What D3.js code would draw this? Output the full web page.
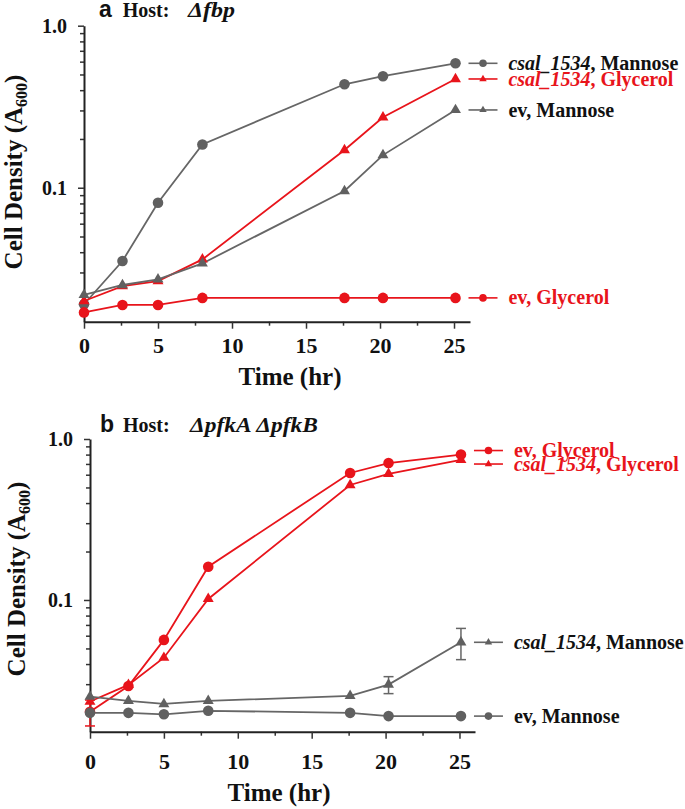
<!DOCTYPE html>
<html><head><meta charset="utf-8">
<script src="https://cdn.jsdelivr.net/npm/d3@7"></script>
<style>
body{margin:0;background:#fff}
svg{display:block}
</style>
</head><body>
<svg id="c" width="685" height="809"></svg>
<script>
// ---------- data ----------
const time = [0, 2.6, 5, 8, 17.6, 20.2, 25.1];
const xMajorTicks = [0, 5, 10, 15, 20, 25];
const xMinorTicks = [2.5, 7.5, 12.5, 17.5, 22.5];
const yMajorTicks = [0.1, 1.0];
const yMajorLabels = ["0.1", "1.0"];
const yMinorTicks = [0.02,0.03,0.04,0.05,0.06,0.07,0.08,0.09,0.2,0.3,0.4,0.5,0.6,0.7,0.8,0.9];

// panel a  (Host: Δfbp)
const aCsalMannose  = [0.0191, 0.0353, 0.0808, 0.185, 0.435, 0.488, 0.586];
const aCsalGlycerol = [0.0200, 0.0247, 0.0265, 0.0361, 0.171, 0.272, 0.469];
const aEvMannose    = [0.0218, 0.0251, 0.0272, 0.0341, 0.0955, 0.159, 0.302];
const aEvGlycerol   = [0.0170, 0.0189, 0.0189, 0.0209, 0.0209, 0.0209, 0.0209];

// panel b  (Host: ΔpfkAΔpfkB)
const bEvGlycerol     = [0.0202, 0.0292, 0.0565, 0.161, 0.615, 0.709, 0.800];
const bEvGlycerolErr  = [0.0037, 0, 0, 0, 0, 0, 0];
const bCsalGlycerol   = [0.0234, 0.0297, 0.0438, 0.1015, 0.518, 0.607, 0.741];
const bCsalMannose    = [0.0251, 0.0236, 0.0226, 0.0236, 0.0254, 0.0298, 0.0546];
const bCsalMannoseErr = [0, 0, 0, 0, 0, 0.0036, 0.0120];
const bEvMannose      = [0.0199, 0.0199, 0.0195, 0.0205, 0.0199, 0.0190, 0.0190];

const RED = "#e8141b", GRAY = "#606060", GRAYLINE = "#666666", BLACK = "#111";
const SERIF = "'Liberation Serif', 'Times New Roman', serif";
const SANS = "'Liberation Sans', Arial, sans-serif";

const lblCsalMannose  = [{t:"csal_1534", i:true}, {t:", Mannose"}];
const lblCsalGlycerol = [{t:"csal_1534", i:true}, {t:", Glycerol"}];
const lblEvMannose    = [{t:"ev, Mannose"}];
const lblEvGlycerol   = [{t:"ev, Glycerol"}];

const panels = [
  {
    letter:"a", gene:"\u0394fbp", geneW:47,
    x0:84, x1:470, yTop:25.7, yBot:321.7, xMax:26.08, yMin:0.0149,
    titleY:17, letterX:99, hostX:122.7, geneX:188,
    xTickPad:9, xLabelX:290, xLabelY:385, yLabelX:22, yLabelY:172,
    series:[
      {v:aCsalMannose,  color:GRAY, line:GRAYLINE, m:"circle",   label:lblCsalMannose,  lc:BLACK},
      {v:aCsalGlycerol, color:RED,  line:RED,      m:"triangle", label:lblCsalGlycerol, lc:RED},
      {v:aEvMannose,    color:GRAY, line:GRAYLINE, m:"triangle", label:lblEvMannose,    lc:BLACK},
      {v:aEvGlycerol,   color:RED,  line:RED,      m:"circle",   label:lblEvGlycerol,   lc:RED}
    ]
  },
  {
    letter:"b", gene:"\u0394pfkA\u2009\u0394pfkB", geneW:128,
    x0:90, x1:475, yTop:439, yBot:731.7, xMax:26.05, yMin:0.0152,
    titleY:431.7, letterX:100, hostX:123, geneX:190,
    xTickPad:15, xLabelX:279, xLabelY:801, yLabelX:25, yLabelY:579,
    series:[
      {v:bEvGlycerol,   e:bEvGlycerolErr, color:RED, line:RED, m:"circle", label:lblEvGlycerol, lc:RED},
      {v:bCsalGlycerol, color:RED,  line:RED,      m:"triangle", label:lblCsalGlycerol, lc:RED},
      {v:bCsalMannose,  e:bCsalMannoseErr, color:GRAY, line:GRAYLINE, m:"triangle", label:lblCsalMannose, lc:BLACK},
      {v:bEvMannose,    color:GRAY, line:GRAYLINE, m:"circle",   label:lblEvMannose,    lc:BLACK}
    ]
  }
];

const svg = d3.select("#c");

function serifText(sel, size){
  return sel.attr("font-family", SERIF).attr("font-weight","bold").attr("font-size", size)
    .style("font-family", SERIF).style("font-weight","bold");
}

function marker(g, type, cx, cy, color, big){
  if(type === "circle"){
    g.append("circle").attr("cx",cx).attr("cy",cy).attr("r", big?5.3:3.8).attr("fill",color);
  } else {
    g.append("path").attr("d", d3.symbol(d3.symbolTriangle, big?52:24)())
      .attr("transform",`translate(${cx},${cy})`).attr("fill",color);
  }
}

panels.forEach(p => {
  const x = d3.scaleLinear().domain([0, p.xMax]).range([p.x0, p.x1]);
  const y = d3.scaleLog().domain([p.yMin, 1]).range([p.yBot, p.yTop]);
  const g = svg.append("g");

  // axes
  const xMinor = g.append("g").attr("transform",`translate(0,${p.yBot})`)
    .call(d3.axisBottom(x).tickValues(xMinorTicks).tickSize(4).tickSizeOuter(0).tickFormat(""));
  xMinor.select(".domain").remove();
  const xAx = g.append("g").attr("transform",`translate(0,${p.yBot})`)
    .call(d3.axisBottom(x).tickValues(xMajorTicks).tickSize(7).tickSizeOuter(0).tickPadding(p.xTickPad));
  const yMinor = g.append("g").attr("transform",`translate(${p.x0},0)`)
    .call(d3.axisLeft(y).tickValues(yMinorTicks).tickSize(4).tickSizeOuter(0).tickFormat(""));
  yMinor.select(".domain").remove();
  const yAx = g.append("g").attr("transform",`translate(${p.x0},0)`)
    .call(d3.axisLeft(y).tickValues(yMajorTicks).tickSize(6).tickSizeOuter(0).tickPadding(11)
      .tickFormat(d=>yMajorLabels[yMajorTicks.indexOf(d)]));
  g.selectAll(".domain").attr("stroke","#222").attr("stroke-width",2);
  g.selectAll(".tick line").attr("stroke","#333").attr("stroke-width",1.5);
  serifText(xAx.selectAll(".tick text"), 22).attr("fill","#111");
  serifText(yAx.selectAll(".tick text"), 20).attr("fill","#111");

  // axis titles
  serifText(g.append("text"), 25).attr("x",p.xLabelX).attr("y",p.xLabelY).attr("text-anchor","middle")
    .attr("fill","#111").text("Time (hr)");
  const yt = serifText(g.append("text"), 25).attr("transform",`translate(${p.yLabelX},${p.yLabelY}) rotate(-90)`)
    .attr("text-anchor","middle").attr("fill","#111");
  yt.append("tspan").text("Cell Density (A");
  yt.append("tspan").attr("font-size",16).attr("dy",5).text("600");
  yt.append("tspan").attr("dy",-5).text(")");

  // panel title
  g.append("text").attr("x",p.letterX).attr("y",p.titleY)
    .attr("font-family",SANS).style("font-family",SANS).attr("font-weight","bold")
    .attr("font-size",23).attr("fill","#111").text(p.letter);
  serifText(g.append("text"), 20).attr("x",p.hostX).attr("y",p.titleY).attr("fill","#111").text("Host:");
  serifText(g.append("text"), 21).attr("x",p.geneX).attr("y",p.titleY)
    .attr("font-style","italic").style("font-style","italic")
    .attr("textLength",p.geneW).attr("lengthAdjust","spacingAndGlyphs")
    .attr("fill","#111").text(p.gene);

  // lines
  const line = d3.line().x((d,i)=>x(time[i])).y(d=>y(d));
  p.series.forEach(s => {
    g.append("path").datum(s.v).attr("d",line).attr("fill","none")
      .attr("stroke",s.line).attr("stroke-width",1.8);
  });
  // error bars
  p.series.forEach(s => {
    if(!s.e) return;
    s.v.forEach((v,i) => {
      const e = s.e[i]; if(!e) return;
      const cx = x(time[i]), yh = y(v+e), yl = y(v-e);
      g.append("line").attr("x1",cx).attr("x2",cx).attr("y1",yh).attr("y2",yl)
        .attr("stroke",s.line).attr("stroke-width",1.5);
      [yh,yl].forEach(yy => g.append("line").attr("x1",cx-5).attr("x2",cx+5).attr("y1",yy).attr("y2",yy)
        .attr("stroke",s.line).attr("stroke-width",1.5));
    });
  });
  // markers
  p.series.forEach(s => {
    s.v.forEach((v,i) => marker(g, s.m, x(time[i]), y(v), s.color, true));
  });

  // legend (placed at the last value, spread apart where crowded)
  const rows = p.series.map(s => ({s, ly: y(s.v[s.v.length-1])})).sort((a,b)=>a.ly-b.ly);
  const gap = 13.5;
  for(let k=1;k<rows.length;k++){
    if(rows[k].ly - rows[k-1].ly < gap){
      const m = (rows[k].ly + rows[k-1].ly)/2;
      rows[k-1].ly = m - gap/2; rows[k].ly = m + gap/2;
    }
  }
  const lx0 = x(time[time.length-1]) + 13;
  rows.forEach(r => {
    const s = r.s;
    g.append("line").attr("x1",lx0).attr("x2",lx0+29).attr("y1",r.ly).attr("y2",r.ly)
      .attr("stroke",s.line).attr("stroke-width",1.6);
    marker(g, s.m, lx0+14.5, r.ly, s.color, false);
    let tx = lx0 + 40;
    s.label.forEach(part => {
      const t = serifText(g.append("text"), 20).attr("x",tx).attr("y",r.ly).attr("dy","0.33em")
        .attr("fill",s.lc).text(part.t);
      if(part.i){
        t.attr("font-style","italic").style("font-style","italic")
         .attr("textLength",82).attr("lengthAdjust","spacingAndGlyphs");
        tx += 82;
      } else {
        tx += t.node().getComputedTextLength();
      }
    });
  });
});
</script>
</body></html>
